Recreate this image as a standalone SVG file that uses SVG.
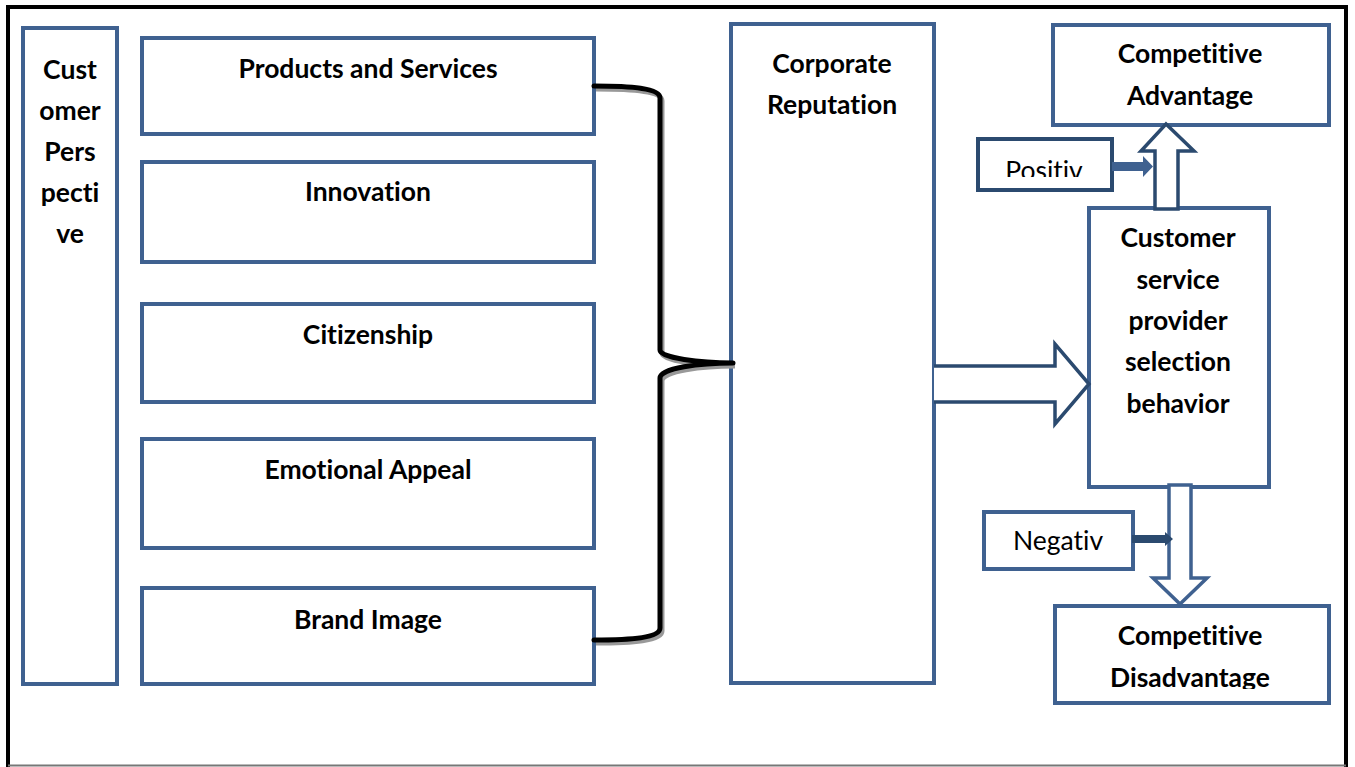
<svg xmlns="http://www.w3.org/2000/svg" width="1355" height="767" viewBox="0 0 1355 767">
<style>
.box{fill:#fff;stroke:#3f6190;stroke-width:4}
.dbox{fill:#fff;stroke:#2b4a6f;stroke-width:4}
.t{font-family:Lato,"Open Sans",sans-serif;font-weight:bold;font-size:26.5px;fill:#000;text-anchor:middle;font-variant-ligatures:none}
.n{font-family:Lato,"Open Sans",sans-serif;font-size:26.5px;fill:#000;text-anchor:middle;font-variant-ligatures:none}
</style>
<defs>
<clipPath id="cpPos"><rect x="977" y="138" width="135" height="39"/></clipPath>
<clipPath id="cpDis"><rect x="1054" y="605" width="275" height="84"/></clipPath>
</defs>
<rect x="0" y="0" width="1355" height="767" fill="#fff"/>
<path d="M8 767 V7 H1346 V767" fill="none" stroke="#000" stroke-width="4"/>
<line x1="8" y1="765.5" x2="1346" y2="765.5" stroke="#777" stroke-width="2"/>

<g id="customer-perspective">
<rect class="box" x="23" y="28" width="94" height="656"/>
<text class="t"><tspan x="70" y="79">Cust</tspan><tspan x="70" y="120">omer</tspan><tspan x="70" y="161">Pers</tspan><tspan x="70" y="202">pecti</tspan><tspan x="70" y="243">ve</tspan></text>
</g>
<g id="products"><rect class="box" x="142" y="38" width="452" height="96"/><text class="t" x="368" y="78">Products and Services</text></g>
<g id="innovation"><rect class="box" x="142" y="162" width="452" height="100"/><text class="t" x="368" y="201">Innovation</text></g>
<g id="citizenship"><rect class="box" x="142" y="304" width="452" height="98"/><text class="t" x="368" y="344">Citizenship</text></g>
<g id="emotional"><rect class="box" x="142" y="439" width="452" height="109"/><text class="t" x="368" y="479">Emotional Appeal</text></g>
<g id="brand"><rect class="box" x="142" y="588" width="452" height="96"/><text class="t" x="368" y="629">Brand Image</text></g>

<g id="corporate-reputation"><rect class="box" x="731" y="24" width="203" height="659"/><text class="t"><tspan x="832" y="73">Corporate</tspan><tspan x="832" y="114">Reputation</tspan></text></g>

<g id="competitive-advantage"><rect class="box" x="1053" y="25" width="276" height="100"/><text class="t"><tspan x="1190" y="63">Competitive</tspan><tspan x="1190" y="105">Advantage</tspan></text></g>
<g id="positiv"><rect class="dbox" x="978" y="139" width="134" height="51"/><text class="n" x="1044" y="180" clip-path="url(#cpPos)">Positiv</text></g>
<g id="customer-service"><rect class="box" x="1089" y="208" width="180" height="279"/><text class="t"><tspan x="1178" y="247">Customer</tspan><tspan x="1178" y="289">service</tspan><tspan x="1178" y="330">provider</tspan><tspan x="1178" y="371">selection</tspan><tspan x="1178" y="413">behavior</tspan></text></g>
<g id="negativ"><rect class="box" x="984" y="512" width="149" height="57"/><text class="n" x="1058" y="550">Negativ</text></g>
<g id="competitive-disadvantage"><rect class="box" x="1055" y="606" width="274" height="97"/><text class="t" clip-path="url(#cpDis)"><tspan x="1190" y="645">Competitive</tspan><tspan x="1190" y="687">Disadvantage</tspan></text></g>

<g id="connectors">
<path d="M594 86 C630 86 660 88 660 98 V350 C660 358 700 363 733 363 C700 363 660 368 660 378 V628 C660 638 630 640 594 640" fill="none" stroke="#999" stroke-width="5" transform="translate(2,3)"/>
<path d="M594 86 C630 86 660 88 660 98 V350 C660 358 700 363 733 363 C700 363 660 368 660 378 V628 C660 638 630 640 594 640" fill="none" stroke="#000" stroke-width="5" stroke-linejoin="round" stroke-linecap="round"/>
<path d="M934 366 H1055 V344 L1089 384 L1055 424 V402 H934" fill="#fff" stroke="#2b4a6f" stroke-width="3.5"/>
<path d="M1155 209 V151 H1141 L1166 124 L1194 151 H1178 V209 Z" fill="#fff" stroke="#2b4a6f" stroke-width="3.5"/>
<path d="M1112 162 H1143 V156 L1153 166.5 L1143 177 V171 H1112 Z" fill="#3f6190"/>
<path d="M1169 485 V578 H1153 L1180 604 L1207 578 H1191 V485 Z" fill="#fff" stroke="#3f6190" stroke-width="3.5"/>
<path d="M1132 535 H1165 V532 L1173 539 L1165 546 V543 H1132 Z" fill="#2b4a6f"/>
</g>
</svg>
